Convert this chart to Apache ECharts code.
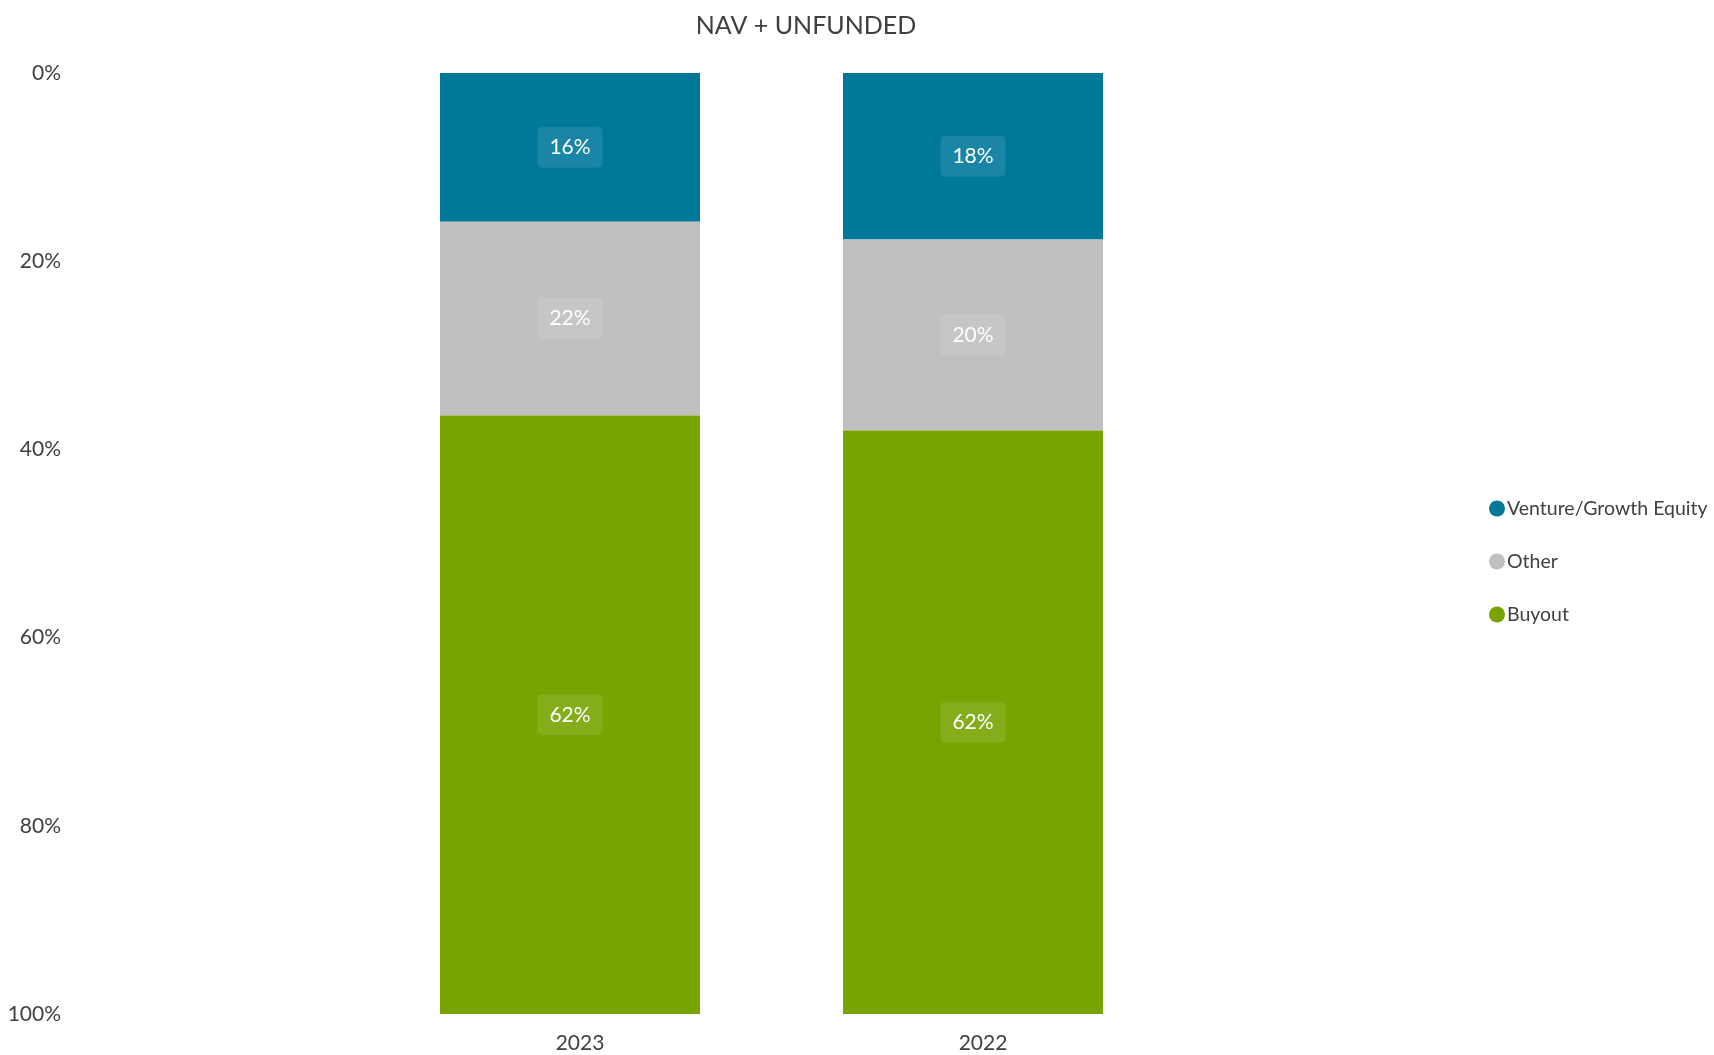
<!DOCTYPE html>
<html>
<head>
<meta charset="utf-8">
<script src="https://cdn.jsdelivr.net/npm/echarts@6/dist/echarts.min.js"></script>
<style>
html,body{margin:0;padding:0;background:#fff;}
#chart{width:1714px;height:1055px;}
</style>
</head>
<body>
<div id="chart"></div>
<script>
const categories = ['2023', '2022'];
const seriesNames = ['Venture/Growth Equity', 'Other', 'Buyout'];
const ventureValues = [15.8, 17.7];
const otherValues = [20.6, 20.3];
const buyoutValues = [63.6, 62.0];
const ventureLabels = ['16%', '18%'];
const otherLabels = ['22%', '20%'];
const buyoutLabels = ['62%', '62%'];
const yTicks = [0, 20, 40, 60, 80, 100];
const titleText = 'NAV + UNFUNDED';

const FONT = "Lato, 'Open Sans', sans-serif";
const colors = ['#00789A', '#BFC0BF', '#78A300'];

function mkSeries(name, values, labels, color) {
  return {
    name: name,
    type: 'bar',
    stack: 'total',
    barWidth: 260,
    data: values,
    itemStyle: { color: color },
    label: {
      show: true,
      position: 'inside',
      formatter: function (p) { return labels[p.dataIndex]; },
      color: '#ffffff',
      fontFamily: FONT,
      fontSize: 21,
      lineHeight: 24,
      backgroundColor: 'rgba(255,255,255,0.1)',
      borderRadius: 5,
      padding: [12, 12, 5, 12]
    },
    emphasis: { disabled: true }
  };
}

const chart = echarts.init(document.getElementById('chart'));
chart.setOption({
  animation: false,
  backgroundColor: '#ffffff',
  graphic: [{
    type: 'text',
    x: 806,
    y: 26,
    style: {
      text: titleText,
      fontFamily: FONT,
      fontSize: 25,
      fill: '#404040',
      align: 'center',
      verticalAlign: 'middle'
    }
  }],
  legend: {
    orient: 'vertical',
    left: 1489,
    top: 498,
    padding: 0,
    itemWidth: 16,
    itemHeight: 21,
    itemGap: 32,
    icon: 'path://M0,50 A50,50 0 1,1 100,50 A50,50 0 1,1 0,50 Z',
    data: seriesNames,
    textStyle: {
      fontFamily: FONT,
      fontSize: 19.5,
      lineHeight: 21,
      color: '#404040',
      padding: [0, 0, 0, -3]
    }
  },
  grid: {
    left: 368.5,
    right: 539.5,
    top: 73,
    bottom: 41,
    containLabel: false
  },
  xAxis: {
    type: 'category',
    data: categories,
    axisLine: { show: false },
    axisTick: { show: false },
    axisLabel: {
      fontFamily: FONT,
      fontSize: 21,
      color: '#404040',
      margin: 19,
      padding: [0, 0, 0, 20]
    }
  },
  yAxis: {
    type: 'value',
    inverse: true,
    min: 0,
    max: 100,
    interval: 20,
    axisLine: { show: false },
    axisTick: { show: false },
    splitLine: { show: false },
    axisLabel: {
      fontFamily: FONT,
      fontSize: 21,
      color: '#404040',
      margin: 307.5,
      padding: [3, 0, 0, 0],
      formatter: function (v) { return yTicks.indexOf(v) >= 0 ? v + '%' : ''; }
    }
  },
  series: [
    mkSeries(seriesNames[0], ventureValues, ventureLabels, colors[0]),
    mkSeries(seriesNames[1], otherValues, otherLabels, colors[1]),
    mkSeries(seriesNames[2], buyoutValues, buyoutLabels, colors[2])
  ]
});
</script>
</body>
</html>
